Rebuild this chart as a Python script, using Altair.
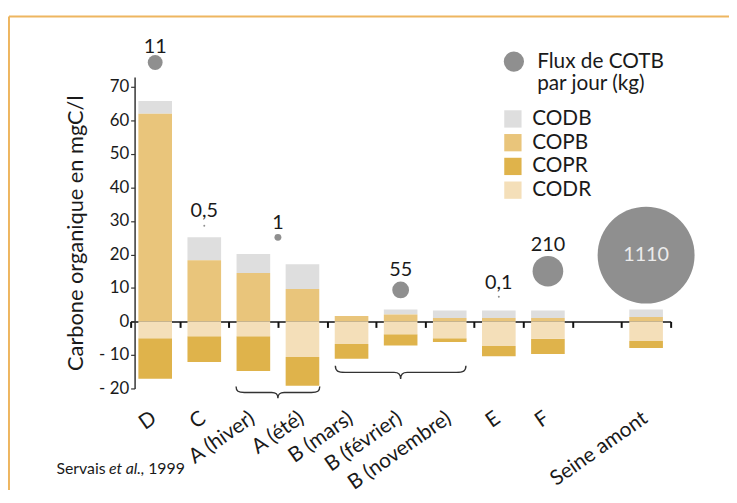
import altair as alt
import pandas as pd

# ---------------- data ----------------
cats = ["D", "C", "A (hiver)", "A (été)", "B (mars)", "B (février)",
        "B (novembre)", "E", "F", " ", "Seine amont"]
bar_sites = ["D", "C", "A (hiver)", "A (été)", "B (mars)", "B (février)",
             "B (novembre)", "E", "F", "Seine amont"]
codb = [3.8, 6.8, 5.6, 7.4, 0.0, 1.5, 2.3, 2.3, 2.3, 2.3]
copb = [62.0, 18.3, 14.5, 9.7, 1.6, 2.1, 1.0, 1.0, 1.0, 1.3]
codr = [5.0, 4.4, 4.4, 10.6, 6.7, 3.8, 5.0, 7.3, 5.2, 5.8]
copr = [12.1, 7.7, 10.4, 8.6, 4.4, 3.4, 1.1, 3.1, 4.5, 2.1]

components = ["CODB", "COPB", "COPR", "CODR"]
comp_colors = ["#dedede", "#e9c57b", "#dfb34b", "#f4dfb9"]
stack_rank = {"COPB": 0, "CODR": 1, "CODB": 2, "COPR": 3}
signs = {"CODB": 1, "COPB": 1, "COPR": -1, "CODR": -1}

flux_sites = ["D", "C", "A", "B", "E", "F", "Seine amont"]
flux_anchor = ["D", "C", "A (été)", "B (février)", "E", "F", "Seine amont"]
flux_band = [0.5, 0.5, 0.0, 0.5, 0.5, 0.5, 0.5]
flux_values = [11, 0.5, 1, 55, 0.1, 210, 1110]
flux_labels = ["11", "0,5", "1", "55", "0,1", "210", "1110"]
flux_height = [77.3, 28.6, 25.1, 9.4, 7.4, 15.0, 19.8]
label_height = [82.0, 33.0, 29.5, 15.3, 11.5, 22.7, 19.8]

brace_groups = ["A", "B"]
brace_anchor = ["A (été)", "B (février)"]
brace_height = [-21.2, -15.2]

# ---------------- build tables ----------------
rows = []
for i, s in enumerate(bar_sites):
    for comp, arr in (("CODB", codb), ("COPB", copb), ("COPR", copr), ("CODR", codr)):
        rows.append({"site": s, "comp": comp, "value": signs[comp] * arr[i],
                     "rank": stack_rank[comp]})
bars_df = pd.DataFrame(rows)
sites_df = pd.DataFrame({"site": bar_sites})

flux_df = pd.DataFrame({
    "site": flux_sites, "anchor": flux_anchor, "band": flux_band,
    "flux": flux_values, "label": flux_labels, "height": flux_height,
    "lheight": label_height, "key": ["flux"] * len(flux_sites),
})
brace_df = pd.DataFrame({"group": brace_groups, "anchor": brace_anchor,
                         "height": brace_height})
one = pd.DataFrame({"k": [0]})

# ---------------- styling ----------------
FONT = "Lato"
INK = "#1a1a1a"
W, H = 546, 315
Y_MIN, Y_MAX = -20, 73
zero_offset = -H * (0 - Y_MIN) / (Y_MAX - Y_MIN)
LABEL_ROW = -25.7   # data-unit height of the category label anchors

xscale = alt.Scale(domain=cats, paddingInner=0, paddingOuter=0)
yscale = alt.Scale(domain=[Y_MIN, Y_MAX], nice=False, zero=False)
size_scale = alt.Scale(type="linear",
                       domain=[0.1, 0.5, 1, 11, 55, 210, 1110],
                       range=[4, 4, 49, 225, 289, 961, 9604])

# the same axis objects are given to every layer so that they merge cleanly
zero_axis = alt.Axis(orient="bottom", offset=zero_offset, title=None,
                     labels=False, domain=True, domainColor="#111",
                     domainWidth=1.6, ticks=True, tickColor="#111",
                     tickWidth=2, tickSize=6, tickBand="extent", grid=False)
y_axis = alt.Axis(orient="left", values=list(range(-20, 71, 10)),
                  title="Carbone organique en mgC/l", titleFont=FONT,
                  titleFontSize=22, titleFontWeight="normal", titleColor=INK,
                  titlePadding=11, labelFont=FONT, labelFontSize=17,
                  labelColor=INK, labelOverlap=False,
                  labelExpr="datum.value < 0 ? '- ' + abs(datum.value) : datum.label",
                  domain=True, domainColor="#333", domainWidth=1.5,
                  ticks=True, tickColor="#333", offset=-4,
                  tickSize=4, tickWidth=1.2, labelPadding=2, grid=False)

# ---------------- layers ----------------
frame_top = alt.Chart(one).mark_rule(color="#eeb660", strokeWidth=2).encode(
    x=alt.value(-123), x2=alt.value(W + 60), y=alt.value(-61))
frame_left = alt.Chart(one).mark_rule(color="#eeb660", strokeWidth=2).encode(
    x=alt.value(-123), y=alt.value(-61), y2=alt.value(H + 110))

bars = alt.Chart(bars_df).mark_bar(width=34).encode(
    x=alt.X("site:N", scale=xscale, axis=zero_axis),
    y=alt.Y("value:Q", stack="zero", scale=yscale, axis=y_axis),
    color=alt.Color("comp:N", scale=alt.Scale(domain=components, range=comp_colors),
                    legend=alt.Legend(title=None, orient="none", legendX=376,
                                      legendY=32, symbolType="square",
                                      symbolSize=306, symbolStrokeWidth=0,
                                      symbolOpacity=1, labelFontSize=21,
                                      labelFont=FONT, labelColor=INK,
                                      labelOffset=9, rowPadding=2, padding=0)),
    order=alt.Order("rank:Q"),
)

site_labels = alt.Chart(sites_df).mark_text(
    font=FONT, fontSize=21, angle=325, align="right", baseline="top",
    color=INK).encode(
    x=alt.X("site:N", scale=xscale, bandPosition=0.36, axis=zero_axis),
    y=alt.YDatum(LABEL_ROW, scale=yscale, axis=y_axis),
    text="site:N",
)

flux_legend = alt.Legend(title=None, orient="none", legendX=377, legendY=-26,
                         symbolSize=420, symbolFillColor="#8f8f8f",
                         symbolStrokeWidth=0, symbolOpacity=1,
                         labelExpr="['Flux de COTB', 'par jour (kg)']",
                         labelFontSize=21, labelFont=FONT, labelColor=INK,
                         labelOffset=13, padding=0)


def circles(band):
    return alt.Chart(flux_df).transform_filter(f"datum.band == {band}").mark_point(
        filled=True, opacity=1, color="#8f8f8f", strokeWidth=0).encode(
        x=alt.X("anchor:N", scale=xscale, bandPosition=band, axis=zero_axis),
        y=alt.Y("height:Q", scale=yscale, axis=y_axis),
        size=alt.Size("flux:Q", scale=size_scale, legend=None),
        shape=alt.Shape("key:N", scale=alt.Scale(domain=["flux"], range=["circle"]),
                        legend=flux_legend),
    )


def labels(band):
    return alt.Chart(flux_df).transform_filter(f"datum.band == {band}").mark_text(
        font=FONT, fontSize=20, baseline="middle", align="center").encode(
        x=alt.X("anchor:N", scale=xscale, bandPosition=band, axis=zero_axis),
        y=alt.Y("lheight:Q", scale=yscale, axis=y_axis),
        text="label:N",
        color=alt.condition("datum.site == 'Seine amont'",
                            alt.value("#ebebeb"), alt.value(INK)),
    )


brace_a_path = ("M -1 -0.14 C -1 -0.03 -0.95 0 -0.8 0 L -0.15 0 C -0.05 0 0 0.04 0 0.14 "
                "C 0 0.04 0.05 0 0.15 0 L 0.8 0 C 0.95 0 1 -0.03 1 -0.14")
brace_b_path = ("M -1 -0.1 C -1 -0.02 -0.96 0 -0.85 0 L -0.1 0 C -0.03 0 0 0.03 0 0.1 "
                "C 0 0.03 0.03 0 0.1 0 L 0.85 0 C 0.96 0 1 -0.02 1 -0.1")

brace_a = alt.Chart(brace_df).transform_filter("datum.group == 'A'").mark_point(
    shape=brace_a_path, size=7157, filled=False, color="#333", strokeWidth=1.4,
    opacity=1).encode(
    x=alt.X("anchor:N", scale=xscale, bandPosition=0, axis=zero_axis),
    y=alt.Y("height:Q", scale=yscale, axis=y_axis))
brace_b = alt.Chart(brace_df).transform_filter("datum.group == 'B'").mark_point(
    shape=brace_b_path, size=17424, filled=False, color="#333", strokeWidth=1.4,
    opacity=1).encode(
    x=alt.X("anchor:N", scale=xscale, bandPosition=0.5, axis=zero_axis),
    y=alt.Y("height:Q", scale=yscale, axis=y_axis))

cap1 = alt.Chart(one).mark_text(font=FONT, fontSize=16, align="left",
                                baseline="alphabetic", color=INK).encode(
    x=alt.value(-75), y=alt.value(402), text=alt.value("Servais"))
cap2 = alt.Chart(one).mark_text(font=FONT, fontSize=16, fontStyle="italic",
                                align="left", baseline="alphabetic", color=INK).encode(
    x=alt.value(-22), y=alt.value(402), text=alt.value("et al."))
cap3 = alt.Chart(one).mark_text(font=FONT, fontSize=16, align="left",
                                baseline="alphabetic", color=INK).encode(
    x=alt.value(10), y=alt.value(402), text=alt.value(", 1999"))

chart = alt.layer(
    bars, frame_top, frame_left, brace_a, brace_b, site_labels,
    circles(0.5), circles(0.0), labels(0.5), labels(0.0),
    cap1, cap2, cap3,
).properties(
    width=W, height=H,
    autosize=alt.AutoSizeParams(type="none"),
    padding={"left": 124, "top": 67, "right": 59, "bottom": 100},
    background="white",
).configure_view(stroke=None)

chart.save("out.html", embed_options={"renderer": "svg", "actions": False})
